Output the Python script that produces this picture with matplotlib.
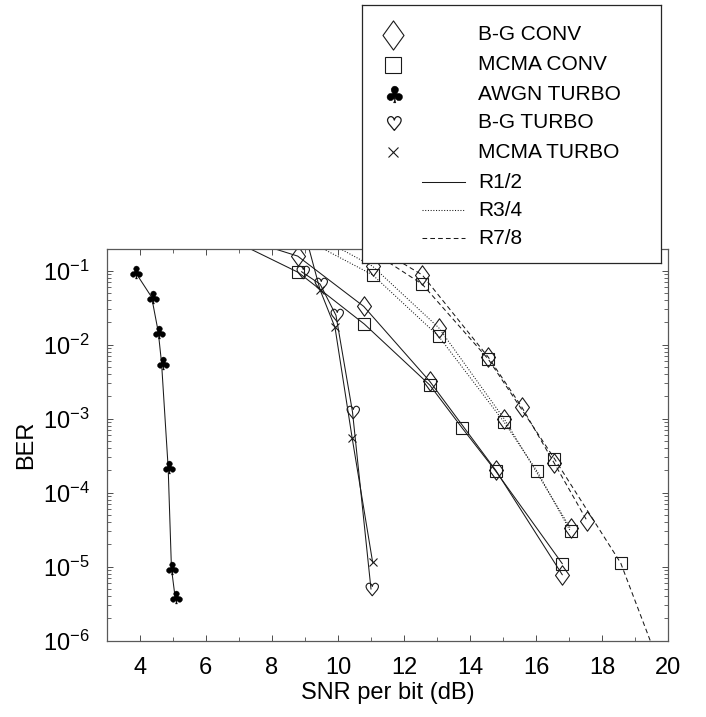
import numpy as np
import matplotlib
matplotlib.use("Agg")
import matplotlib.pyplot as plt
from matplotlib.path import Path
from matplotlib.textpath import TextPath
from matplotlib.font_manager import FontProperties
from matplotlib.ticker import MultipleLocator, LogLocator, NullFormatter, FixedLocator

plt.rcParams['font.family'] = ['Liberation Sans', 'DejaVu Sans']
plt.rcParams['mathtext.fontset'] = 'custom'
plt.rcParams['mathtext.rm'] = 'Liberation Sans'
plt.rcParams['mathtext.it'] = 'Liberation Sans'

# ---------------- data ----------------
awgn_turbo_snr = [3.86, 4.36, 4.56, 4.66, 4.86, 4.96, 5.07]
awgn_turbo_ber = [9.7e-2, 4.4e-2, 1.5e-2, 5.7e-3, 2.2e-4, 9.5e-6, 3.9e-6]

bg_turbo_snr = [8.90, 9.46, 9.94, 10.44, 11.0]
bg_turbo_ber = [9.7e-2, 6.6e-2, 2.5e-2, 1.24e-3, 5.0e-6]

mcma_turbo_snr = [9.0, 9.46, 9.91, 10.43, 11.05]
mcma_turbo_ber = [0.32, 5.5e-2, 1.72e-2, 5.5e-4, 1.15e-5]

bg_conv_r12_snr = [6.8, 8.78, 10.78, 12.78, 14.78, 16.79]
bg_conv_r12_ber = [0.30, 0.158, 3.3e-2, 3.2e-3, 2.0e-4, 7.8e-6]
mcma_conv_r12_snr = [6.8, 8.8, 10.8, 12.78, 13.77, 14.78, 16.79]
mcma_conv_r12_ber = [0.26, 9.5e-2, 1.9e-2, 2.85e-3, 7.4e-4, 1.95e-4, 1.1e-5]

bg_conv_r34_snr = [9.05, 11.05, 13.05, 15.03, 17.04]
bg_conv_r34_ber = [0.35, 0.115, 1.7e-2, 1.0e-3, 3.3e-5]
mcma_conv_r34_snr = [9.05, 11.05, 13.05, 15.03, 16.03, 17.04]
mcma_conv_r34_ber = [0.26, 8.8e-2, 1.3e-2, 9.0e-4, 1.95e-4, 3.0e-5]

bg_conv_r78_snr = [10.55, 12.55, 14.55, 15.56, 16.55, 17.55]
bg_conv_r78_ber = [0.30, 8.8e-2, 6.8e-3, 1.45e-3, 2.5e-4, 4.1e-5]
mcma_conv_r78_snr = [10.55, 12.55, 14.55, 16.55, 18.56, 19.56]
mcma_conv_r78_ber = [0.25, 6.6e-2, 6.4e-3, 2.9e-4, 1.12e-5, 7.5e-7]

marker_labels = ["B-G CONV", "MCMA CONV", "AWGN TURBO", "B-G TURBO", "MCMA TURBO"]
line_labels = ["R1/2", "R3/4", "R7/8"]
x_ticks = [4, 6, 8, 10, 12, 14, 16, 18, 20]
y_ticks = [1e-6, 1e-5, 1e-4, 1e-3, 1e-2, 1e-1]

# ---------------- markers ----------------
def glyph_marker(ch):
    tp = TextPath((0, 0), ch, size=1, prop=FontProperties(family='DejaVu Sans'))
    v = tp.vertices.copy()
    mn, mx = v.min(axis=0), v.max(axis=0)
    v = v - (mn + mx) / 2.0
    return Path(v, tp.codes)

CLUB = glyph_marker('\u2663')
HEART = glyph_marker('\u2665')
DIAMOND = Path([(0, 0.5), (0.36, 0), (0, -0.5), (-0.36, 0), (0, 0.5)],
               [Path.MOVETO, Path.LINETO, Path.LINETO, Path.LINETO, Path.CLOSEPOLY])

LS = {'solid': '-', 'dotted': (0, (1.0, 1.6)), 'dashed': (0, (4.5, 3.0))}
LW = 0.75
K = '0.1'

fig = plt.figure(figsize=(7.06, 7.17), dpi=100)
L, R, T, B = 106.7, 668.3, 248.5, 640.7
W, H = 706.0, 717.0
ax = fig.add_axes([L / W, 1 - B / H, (R - L) / W, (B - T) / H])

def conv(x, y, ls, mk, ms):
    ax.plot(x, y, linestyle=LS[ls], color=K, lw=LW, marker=mk, ms=ms,
            mfc='none', mec=K, mew=0.8)

conv(bg_conv_r12_snr, bg_conv_r12_ber, 'solid', DIAMOND, 14)
conv(mcma_conv_r12_snr, mcma_conv_r12_ber, 'solid', 's', 8.5)
conv(bg_conv_r34_snr, bg_conv_r34_ber, 'dotted', DIAMOND, 14)
conv(mcma_conv_r34_snr, mcma_conv_r34_ber, 'dotted', 's', 8.5)
conv(bg_conv_r78_snr, bg_conv_r78_ber, 'dashed', DIAMOND, 14)
conv(mcma_conv_r78_snr, mcma_conv_r78_ber, 'dashed', 's', 8.5)

ax.plot(awgn_turbo_snr, awgn_turbo_ber, '-', color=K, lw=LW, marker=CLUB, ms=10,
        mfc='black', mec='black', mew=0.3)
ax.plot(bg_turbo_snr, bg_turbo_ber, '-', color=K, lw=LW, marker=HEART, ms=10,
        mfc='none', mec=K, mew=0.8)
ax.plot(mcma_turbo_snr, mcma_turbo_ber, '-', color=K, lw=LW, marker='x', ms=6,
        mec=K, mew=0.8)

ax.set_yscale('log')
ax.set_xlim(3, 20)
ax.set_ylim(1e-6, 0.2)
ax.xaxis.set_major_locator(FixedLocator(x_ticks))
ax.xaxis.set_minor_locator(MultipleLocator(1))
ax.yaxis.set_major_locator(FixedLocator(y_ticks))
ax.yaxis.set_minor_locator(LogLocator(base=10, subs=np.arange(2, 10), numticks=20))
ax.yaxis.set_minor_formatter(NullFormatter())
ax.set_yticklabels([r'$\mathregular{10^{%d}}$' % int(np.log10(v)) for v in y_ticks])
ax.tick_params(which='both', direction='in', top=True, right=True, colors='0.3',
               labelcolor='black')
ax.tick_params(which='major', length=4, width=0.7)
ax.tick_params(which='minor', length=3, width=0.6)
ax.tick_params(axis='x', which='major', labelsize=17, pad=12)
ax.tick_params(axis='y', which='major', labelsize=17, pad=12)
for s in ax.spines.values():
    s.set_color('0.35')
    s.set_linewidth(0.9)
ax.set_xlabel('SNR per bit (dB)', fontsize=17, labelpad=2)
ax.set_ylabel('BER', fontsize=17, labelpad=4)

# ---------------- legend box ----------------
lx0, lx1, ly0, ly1 = 362.0, 660.7, 5.0, 263.0
lax = fig.add_axes([lx0 / W, 1 - ly1 / H, (lx1 - lx0) / W, (ly1 - ly0) / H], zorder=5)
lax.set_xlim(0, lx1 - lx0)
lax.set_ylim(ly1 - ly0, 0)
lax.set_xticks([])
lax.set_yticks([])
lax.set_facecolor('white')
for s in lax.spines.values():
    s.set_color('0.15')
    s.set_linewidth(0.9)

rows = [30, 60, 89, 118, 147, 177, 205, 233]
mk_specs = [
    dict(marker=DIAMOND, ms=21, mfc='none', mec=K, mew=0.8),
    dict(marker='s', ms=11.5, mfc='none', mec=K, mew=0.8),
    dict(marker=CLUB, ms=13, mfc='black', mec='black', mew=0.3),
    dict(marker=HEART, ms=11, mfc='none', mec=K, mew=0.9),
    dict(marker='x', ms=7, mec=K, mew=0.8),
]
for yy, lab, spec in zip(rows[:5], marker_labels, mk_specs):
    lax.plot([31], [yy], linestyle='none', **spec)
    lax.text(116, yy, lab, fontsize=15, va='center', ha='left')
for yy, lab, ls in zip(rows[5:], line_labels, ['solid', 'dotted', 'dashed']):
    lax.plot([60, 103], [yy, yy], linestyle=LS[ls], color=K, lw=LW)
    lax.text(116, yy, lab, fontsize=15, va='center', ha='left')

fig.savefig('out.png', dpi=100)
